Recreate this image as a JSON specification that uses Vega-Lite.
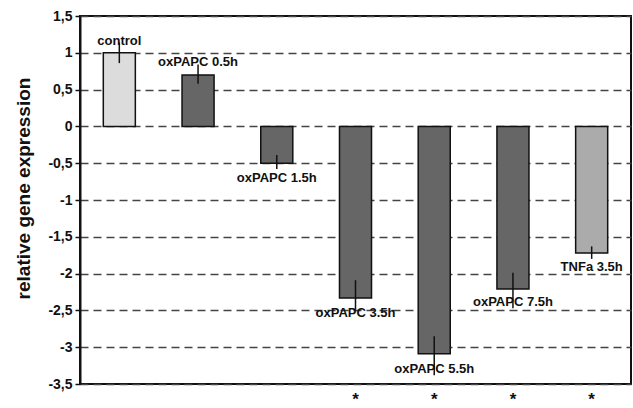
{
  "$schema": "https://vega.github.io/schema/vega-lite/v6.json",
  "width": 551,
  "height": 368,
  "autosize": {"type": "none"},
  "padding": {"left": 80, "top": 16, "right": 2, "bottom": 24},
  "background": "white",
  "config": {
    "view": {"stroke": "#111", "strokeWidth": 2},
    "font": "Liberation Sans"
  },
  "data": {
    "values": [
      {"cond": "control", "value": 1.0, "lo": 0.86, "hi": 1.14, "ylab": 1.16, "group": "control", "sig": ""},
      {"cond": "oxPAPC 0.5h", "value": 0.7, "lo": 0.58, "hi": 0.84, "ylab": 0.88, "group": "oxPAPC", "sig": ""},
      {"cond": "oxPAPC 1.5h", "value": -0.5, "lo": -0.58, "hi": -0.39, "ylab": -0.7, "group": "oxPAPC", "sig": ""},
      {"cond": "oxPAPC 3.5h", "value": -2.33, "lo": -2.49, "hi": -2.09, "ylab": -2.53, "group": "oxPAPC", "sig": "*"},
      {"cond": "oxPAPC 5.5h", "value": -3.09, "lo": -3.38, "hi": -2.85, "ylab": -3.3, "group": "oxPAPC", "sig": "*"},
      {"cond": "oxPAPC 7.5h", "value": -2.21, "lo": -2.47, "hi": -1.99, "ylab": -2.39, "group": "oxPAPC", "sig": "*"},
      {"cond": "TNFa 3.5h", "value": -1.72, "lo": -1.8, "hi": -1.63, "ylab": -1.91, "group": "TNFa", "sig": "*"}
    ]
  },
  "encoding": {
    "x": {
      "field": "cond",
      "type": "nominal",
      "sort": null,
      "scale": {"paddingInner": 0.593, "paddingOuter": 0.296},
      "axis": null
    }
  },
  "layer": [
    {
      "mark": {"type": "bar", "stroke": "#111", "strokeWidth": 1.5},
      "encoding": {
        "y": {
          "field": "value",
          "type": "quantitative",
          "scale": {"domain": [-3.5, 1.5], "nice": false, "zero": true},
          "axis": {
            "values": [-3.5, -3, -2.5, -2, -1.5, -1, -0.5, 0, 0.5, 1, 1.5],
            "tickCount": 20,
            "labelExpr": "replace(toString(datum.value), '.', ',')",
            "labelOverlap": false,
            "labelBound": false,
            "labelFont": "Liberation Sans",
            "labelFontWeight": "bold",
            "labelFontSize": 14,
            "labelColor": "#111",
            "labelPadding": 3,
            "tickSize": 5,
            "tickColor": "#111",
            "tickWidth": 1.5,
            "domainColor": "#111",
            "domainWidth": 2,
            "grid": true,
            "gridColor": "#444",
            "gridWidth": 1.5,
            "gridDash": [8, 5],
            "title": "relative gene expression",
            "titleFont": "Liberation Sans",
            "titleFontWeight": "bold",
            "titleFontSize": 19,
            "titleColor": "#111",
            "titleX": -57,
            "titleY": 172,
            "titleBaseline": "middle",
            "titleAngle": -90
          }
        },
        "y2": {"datum": 0},
        "fill": {
          "field": "group",
          "type": "nominal",
          "scale": {"domain": ["control", "oxPAPC", "TNFa"], "range": ["#dcdcdc", "#666666", "#ababab"]},
          "legend": null
        }
      }
    },
    {
      "mark": {"type": "text", "font": "Liberation Sans", "fontWeight": "bold", "fontSize": 13, "color": "#111", "baseline": "middle"},
      "encoding": {
        "y": {"field": "ylab", "type": "quantitative"},
        "text": {"field": "cond"}
      }
    },
    {
      "mark": {"type": "rule", "color": "#111", "strokeWidth": 1.5},
      "encoding": {
        "y": {"field": "lo", "type": "quantitative"},
        "y2": {"field": "hi"}
      }
    },
    {
      "mark": {"type": "text", "font": "Liberation Sans", "fontWeight": "bold", "fontSize": 17, "color": "#111", "baseline": "middle", "dy": 16},
      "encoding": {
        "y": {"datum": -3.5},
        "text": {"field": "sig"}
      }
    }
  ]
}
